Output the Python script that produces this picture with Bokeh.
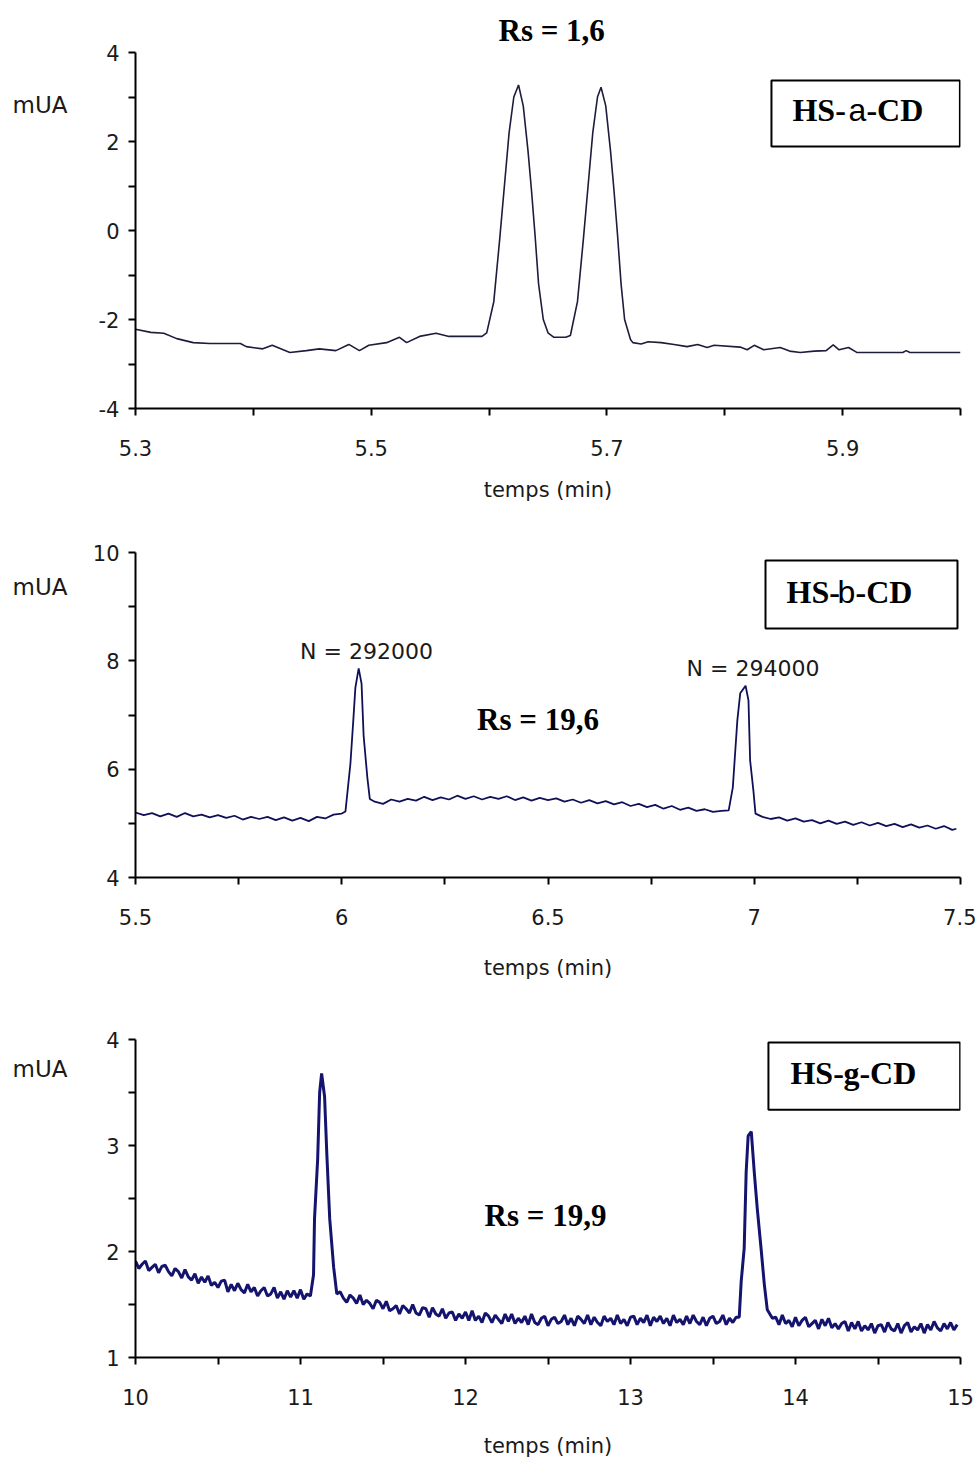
from bokeh.plotting import figure
from bokeh.layouts import column, row
from bokeh.models import Range1d, FixedTicker, Label, BoxAnnotation, Title
from bokeh.core.properties import value
from bokeh.embed import file_html
from bokeh.resources import INLINE

# ---------------- data: panel A (HS-a-CD) ----------------
x_a = [5.300, 5.313, 5.324, 5.335, 5.349, 5.363, 5.389, 5.394, 5.408, 5.416,
       5.431, 5.445, 5.456, 5.470, 5.481, 5.490, 5.498, 5.513, 5.524, 5.530,
       5.541, 5.555, 5.566, 5.594,
       5.598, 5.604, 5.609, 5.613, 5.617, 5.621, 5.625, 5.629, 5.633, 5.636,
       5.639, 5.642, 5.646, 5.650, 5.655, 5.665,
       5.669, 5.675, 5.680, 5.684, 5.688, 5.692, 5.695, 5.699, 5.703, 5.706,
       5.709, 5.712, 5.715, 5.720,
       5.722, 5.729, 5.735, 5.746, 5.757, 5.768, 5.777, 5.785, 5.791, 5.813,
       5.819, 5.825, 5.833, 5.847, 5.855, 5.864, 5.876, 5.886, 5.892, 5.897,
       5.905, 5.912, 5.951, 5.954, 5.957, 6.000]
y_a = [-2.22, -2.29, -2.31, -2.43, -2.52, -2.54, -2.54, -2.61, -2.66, -2.58,
       -2.74, -2.70, -2.66, -2.70, -2.56, -2.70, -2.58, -2.52, -2.40, -2.52,
       -2.38, -2.31, -2.38, -2.38,
       -2.30, -1.60, -0.20, 1.00, 2.20, 3.00, 3.27, 2.80, 1.80, 0.90,
       -0.10, -1.20, -2.00, -2.30, -2.40, -2.40,
       -2.36, -1.60, -0.20, 1.00, 2.20, 3.00, 3.22, 2.80, 1.80, 0.90,
       -0.10, -1.20, -2.00, -2.45,
       -2.52, -2.55, -2.50, -2.52, -2.56, -2.61, -2.56, -2.63, -2.58, -2.62,
       -2.68, -2.58, -2.68, -2.63, -2.71, -2.74, -2.71, -2.70, -2.57, -2.68,
       -2.63, -2.74, -2.74, -2.70, -2.74, -2.74]

# ---------------- data: panel B (HS-b-CD) ----------------
x_b = [5.50, 5.52, 5.54, 5.56, 5.58, 5.60, 5.62, 5.64, 5.66, 5.68,
       5.70, 5.72, 5.74, 5.76, 5.78, 5.80, 5.82, 5.84, 5.86, 5.88,
       5.90, 5.92, 5.94, 5.96, 5.98, 6.00,
       6.009, 6.021, 6.028, 6.033, 6.041, 6.048, 6.053, 6.062, 6.068,
       6.08, 6.10, 6.12, 6.14, 6.16, 6.18, 6.20, 6.22, 6.24, 6.26,
       6.28, 6.30, 6.32, 6.34, 6.36, 6.38, 6.40, 6.42, 6.44, 6.46,
       6.48, 6.50, 6.52, 6.54, 6.56, 6.58, 6.60, 6.62, 6.64, 6.66,
       6.68, 6.70, 6.72, 6.74, 6.76, 6.78, 6.80, 6.82, 6.84, 6.86,
       6.88, 6.90, 6.92,
       6.938, 6.948, 6.959, 6.966, 6.979, 6.986, 6.990, 6.998, 7.003,
       7.02, 7.04, 7.06, 7.08, 7.10, 7.12, 7.14, 7.16, 7.18, 7.20,
       7.22, 7.24, 7.26, 7.28, 7.30, 7.32, 7.34, 7.36, 7.38, 7.40,
       7.42, 7.44, 7.46, 7.48, 7.49]
y_b = [5.20, 5.15, 5.19, 5.13, 5.18, 5.12, 5.19, 5.13, 5.16, 5.11,
       5.15, 5.10, 5.14, 5.07, 5.12, 5.08, 5.12, 5.06, 5.11, 5.05,
       5.10, 5.04, 5.12, 5.09, 5.16, 5.18,
       5.22, 6.10, 6.90, 7.50, 7.86, 7.58, 6.62, 5.85, 5.45,
       5.40, 5.36, 5.44, 5.40, 5.45, 5.42, 5.49, 5.43, 5.48, 5.44,
       5.51, 5.45, 5.50, 5.44, 5.49, 5.45, 5.50, 5.43, 5.48, 5.42,
       5.47, 5.43, 5.46, 5.40, 5.44, 5.38, 5.43, 5.37, 5.41, 5.35,
       5.39, 5.32, 5.36, 5.30, 5.34, 5.27, 5.32, 5.25, 5.29, 5.23,
       5.26, 5.21, 5.23,
       5.24, 5.66, 6.90, 7.40, 7.54, 7.27, 6.16, 5.60, 5.18,
       5.12, 5.08, 5.11, 5.05, 5.09, 5.03, 5.06, 5.00, 5.05, 4.99,
       5.03, 4.97, 5.02, 4.96, 5.01, 4.95, 4.99, 4.93, 4.98, 4.92,
       4.96, 4.90, 4.95, 4.88, 4.90]

# ---------------- data: panel G (HS-g-CD) ----------------
x_g = [10.00, 10.02, 10.04, 10.06, 10.08, 10.10, 10.12, 10.14, 10.16, 10.18,
       10.20, 10.22, 10.24, 10.26, 10.28, 10.30, 10.32, 10.34, 10.36, 10.38,
       10.40, 10.42, 10.44, 10.46, 10.48, 10.50, 10.52, 10.54, 10.56, 10.58,
       10.60, 10.62, 10.64, 10.66, 10.68, 10.70, 10.72, 10.74, 10.76, 10.78,
       10.80, 10.82, 10.84, 10.86, 10.88, 10.90, 10.92, 10.94, 10.96, 10.98,
       11.00, 11.02, 11.04, 11.06,
       11.079, 11.085, 11.104, 11.116, 11.128, 11.146, 11.159, 11.177, 11.201, 11.220,
       11.24, 11.26, 11.28, 11.30, 11.32, 11.34, 11.36, 11.38, 11.40, 11.42,
       11.44, 11.46, 11.48, 11.50, 11.52, 11.54, 11.56, 11.58, 11.60, 11.62,
       11.64, 11.66, 11.68, 11.70, 11.72, 11.74, 11.76, 11.78, 11.80, 11.82,
       11.84, 11.86, 11.88, 11.90, 11.92, 11.94, 11.96, 11.98, 12.00, 12.02,
       12.04, 12.06, 12.08, 12.10, 12.12, 12.14, 12.16, 12.18, 12.20, 12.22,
       12.24, 12.26, 12.28, 12.30, 12.32, 12.34, 12.36, 12.38, 12.40, 12.42,
       12.44, 12.46, 12.48, 12.50, 12.52, 12.54, 12.56, 12.58, 12.60, 12.62,
       12.64, 12.66, 12.68, 12.70, 12.72, 12.74, 12.76, 12.78, 12.80, 12.82,
       12.84, 12.86, 12.88, 12.90, 12.92, 12.94, 12.96, 12.98, 13.00, 13.02,
       13.04, 13.06, 13.08, 13.10, 13.12, 13.14, 13.16, 13.18, 13.20, 13.22,
       13.24, 13.26, 13.28, 13.30, 13.32, 13.34, 13.36, 13.38, 13.40, 13.42,
       13.44, 13.46, 13.48, 13.50, 13.52, 13.54, 13.56, 13.58, 13.60, 13.62,
       13.64,
       13.659, 13.671, 13.689, 13.701, 13.713, 13.732, 13.750, 13.768, 13.793, 13.811,
       13.829, 13.860,
       13.88, 13.90, 13.92, 13.94, 13.96, 13.98, 14.00, 14.02, 14.04, 14.06,
       14.08, 14.10, 14.12, 14.14, 14.16, 14.18, 14.20, 14.22, 14.24, 14.26,
       14.28, 14.30, 14.32, 14.34, 14.36, 14.38, 14.40, 14.42, 14.44, 14.46,
       14.48, 14.50, 14.52, 14.54, 14.56, 14.58, 14.60, 14.62, 14.64, 14.66,
       14.68, 14.70, 14.72, 14.74, 14.76, 14.78, 14.80, 14.82, 14.84, 14.86,
       14.88, 14.90, 14.92, 14.94, 14.96, 14.98]
y_g = [1.91, 1.84, 1.88, 1.91, 1.82, 1.85, 1.88, 1.80, 1.86, 1.87,
       1.81, 1.77, 1.84, 1.81, 1.75, 1.83, 1.76, 1.73, 1.79, 1.70,
       1.76, 1.71, 1.77, 1.68, 1.71, 1.66, 1.72, 1.73, 1.62, 1.69,
       1.63, 1.70, 1.64, 1.61, 1.69, 1.62, 1.66, 1.58, 1.63, 1.66,
       1.58, 1.60, 1.66, 1.56, 1.62, 1.55, 1.63, 1.57, 1.63, 1.56,
       1.64, 1.55, 1.60, 1.58,
       1.78, 2.31, 2.87, 3.50, 3.68, 3.46, 2.94, 2.31, 1.85, 1.60,
       1.62, 1.56, 1.52, 1.59, 1.56, 1.51, 1.59, 1.50, 1.54, 1.51,
       1.46, 1.54, 1.52, 1.46, 1.53, 1.44, 1.46, 1.49, 1.41, 1.49,
       1.46, 1.42, 1.50, 1.42, 1.40, 1.47, 1.46, 1.38, 1.47, 1.41,
       1.39, 1.46, 1.37, 1.42, 1.43, 1.35, 1.41, 1.37, 1.43, 1.35,
       1.44, 1.35, 1.39, 1.33, 1.42, 1.39, 1.33, 1.40, 1.36, 1.32,
       1.41, 1.34, 1.41, 1.32, 1.37, 1.33, 1.39, 1.31, 1.41, 1.33,
       1.31, 1.37, 1.39, 1.30, 1.36, 1.38, 1.32, 1.34, 1.40, 1.31,
       1.37, 1.30, 1.39, 1.36, 1.32, 1.40, 1.31, 1.38, 1.33, 1.30,
       1.39, 1.34, 1.37, 1.31, 1.40, 1.32, 1.36, 1.30, 1.38, 1.39,
       1.31, 1.37, 1.33, 1.40, 1.30, 1.38, 1.34, 1.39, 1.32, 1.37,
       1.30, 1.40, 1.33, 1.36, 1.31, 1.39, 1.32, 1.40, 1.34, 1.31,
       1.38, 1.30, 1.37, 1.39, 1.32, 1.34, 1.40, 1.31, 1.37, 1.33,
       1.38,
       1.38, 1.72, 2.03, 2.75, 3.09, 3.13, 2.75, 2.41, 2.00, 1.69,
       1.45, 1.37,
       1.38, 1.31, 1.40, 1.32, 1.35, 1.29, 1.38, 1.30, 1.35, 1.38,
       1.29, 1.32, 1.35, 1.27, 1.36, 1.30, 1.37, 1.28, 1.32, 1.27,
       1.32, 1.34, 1.25, 1.33, 1.27, 1.34, 1.25, 1.30, 1.26, 1.32,
       1.23, 1.30, 1.31, 1.24, 1.33, 1.27, 1.25, 1.32, 1.23, 1.30,
       1.33, 1.24, 1.29, 1.26, 1.32, 1.23, 1.31, 1.26, 1.34, 1.28,
       1.25, 1.32, 1.27, 1.33, 1.26, 1.31]

# ---------------- ticks / labels ----------------
xt_a, xm_a = [5.3, 5.5, 5.7, 5.9], [5.4, 5.6, 5.8, 6.0]
yt_a, ym_a = [-4, -2, 0, 2, 4], [-3, -1, 1, 3]
xt_b, xm_b = [5.5, 6, 6.5, 7, 7.5], [5.75, 6.25, 6.75, 7.25]
yt_b, ym_b = [4, 6, 8, 10], [5, 7, 9]
xt_g, xm_g = [10, 11, 12, 13, 14, 15], [10.5, 11.5, 12.5, 13.5, 14.5]
yt_g, ym_g = [1, 2, 3, 4], [1.5, 2.5, 3.5]

x_title = "temps (min)"
y_unit = "mUA"
rs_texts = ["Rs = 1,6", "Rs = 19,6", "Rs = 19,9"]
n_texts = ["N = 292000", "N = 294000"]
names = [("HS-", "a", "-CD"), ("HS-", "b", "-CD"), ("HS-", "g", "-CD")]

SANS = "DejaVu Sans"
SERIF = "Liberation Serif"
TXT = "#1a1a1a"
W_MAIN = 896
W_LEFT = 80
H = [520, 480, 460]


def make_fig(height, top, bottom, xr, yr, xt, xm, yt, ym, s1, s2):
    p = figure(width=W_MAIN, height=height, x_range=Range1d(*xr), y_range=Range1d(*yr),
               output_backend="svg", toolbar_location=None,
               min_border_left=55, min_border_right=16,
               min_border_top=top, min_border_bottom=bottom)
    p.outline_line_color = None
    p.grid.visible = False
    p.xaxis.ticker = FixedTicker(ticks=xt, minor_ticks=xm)
    p.yaxis.ticker = FixedTicker(ticks=yt, minor_ticks=ym)
    p.xaxis.major_label_overrides = {v: (str(int(v)) if float(v).is_integer() else str(v)) for v in xt}
    p.yaxis.major_label_overrides = {v: str(int(v)) for v in yt}
    for ax in (p.xaxis, p.yaxis):
        ax.axis_line_color = "black"
        ax.axis_line_width = 2
        ax.major_tick_line_color = "black"
        ax.major_tick_line_width = 2
        ax.minor_tick_line_color = "black"
        ax.minor_tick_line_width = 2
        ax.major_tick_in = 0
        ax.major_tick_out = 7
        ax.minor_tick_in = 0
        ax.minor_tick_out = 7
        ax.major_label_text_font = SANS
        ax.major_label_text_font_size = "21px"
        ax.major_label_text_color = TXT
    p.xaxis.major_label_standoff = s1
    p.yaxis.major_label_standoff = 9
    p.xaxis.axis_label = x_title
    p.xaxis.axis_label_text_font = SANS
    p.xaxis.axis_label_text_font_size = "21px"
    p.xaxis.axis_label_text_font_style = "normal"
    p.xaxis.axis_label_text_color = TXT
    p.xaxis.axis_label_standoff = s2
    return p


def add_name(p, box, yc, parts, mid_font, mid_style, offs):
    p.add_layout(BoxAnnotation(left=box[0], right=box[1], top=box[2], bottom=box[3],
                               fill_color="white", fill_alpha=1.0,
                               line_color="black", line_width=2, line_alpha=1.0))
    fonts = [(SERIF, "bold"), (mid_font, mid_style), (SERIF, "bold")]
    for txt, (f, st), off in zip(parts, fonts, offs):
        p.add_layout(Label(x=box[0], y=yc, x_offset=off, text=txt, text_font=f,
                           text_font_style=st, text_font_size="32px", text_color="black",
                           text_align="left", text_baseline="middle"))


def add_rs(p, x, y, t):
    p.add_layout(Label(x=x, y=y, text=t, text_font=SERIF, text_font_style="bold",
                       text_font_size="31px", text_color="black",
                       text_align="center", text_baseline="middle"))


# ---------- panel A ----------
pa = make_fig(H[0], 52, 112, (5.3, 6.0), (-4, 4), xt_a, xm_a, yt_a, ym_a, 24, 19)
pa.title = Title(text=rs_texts[0], align="left", offset=363, standoff=9,
                 text_font=SERIF, text_font_style="bold", text_font_size="31px",
                 text_color="black")
pa.line(x_a, y_a, line_color="#1c1c3c", line_width=1.6)
add_name(pa, (5.8396, 5.9995, 3.371, 1.888), 2.719, names[0],
         "Liberation Sans", "normal", [21, 77, 95])

# ---------- panel B ----------
pb = make_fig(H[1], 32, 123, (5.5, 7.5), (4, 10), xt_b, xm_b, yt_b, ym_b, 24, 28)
pb.line(x_b, y_b, line_color="#101058", line_width=1.8)
add_rs(pb, 6.4758, 6.917, rs_texts[1])
for t, x, y in zip(n_texts, [6.06, 6.997], [8.172, 7.859]):
    pb.add_layout(Label(x=x, y=y, text=t, text_font=SANS, text_font_size="22px",
                        text_color=TXT, text_align="center", text_baseline="middle"))
add_name(pb, (7.0273, 7.4927, 9.852, 8.597), 9.262, names[1],
         "Liberation Sans", "normal", [21, 72, 90])

# ---------- panel G ----------
pg = make_fig(H[2], 39, 99, (10, 15), (1, 4), xt_g, xm_g, yt_g, ym_g, 24, 26)
pg.line(x_g, y_g, line_color="#14146e", line_width=3)
add_rs(pg, 12.485, 2.342, rs_texts[2])
add_name(pg, (13.836, 14.998, 3.972, 3.338), 3.683, names[2],
         SERIF, "bold", [22, 75, 91])

# ---------- left strip holding the horizontal "mUA" unit labels ----------
total_h = sum(H)
pl = figure(width=W_LEFT, height=total_h, x_range=Range1d(0, W_LEFT),
            y_range=Range1d(total_h, 0), output_backend="svg", toolbar_location=None,
            x_axis_type=None, y_axis_type=None,
            min_border_left=0, min_border_right=0, min_border_top=0, min_border_bottom=0)
pl.outline_line_color = None
pl.grid.visible = False
unit_y = [104, 586, 1068]
pl.text(x=[12, 12, 12], y=unit_y, text=[y_unit] * 3, text_font=value(SANS),
        text_font_size="23px", text_color=TXT, text_align="left", text_baseline="middle")

layout = row(pl, column(pa, pb, pg, spacing=0), spacing=0)
open("out.html", "w").write(file_html(layout, INLINE))
